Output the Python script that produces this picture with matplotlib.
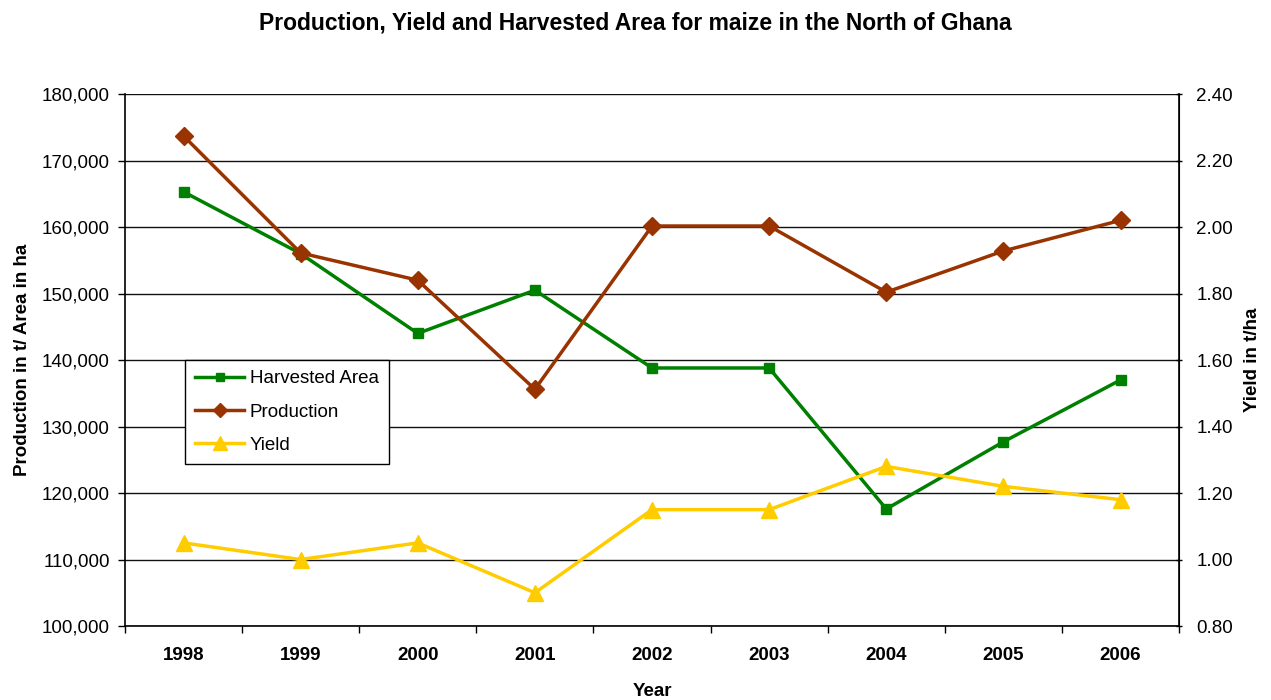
import matplotlib
matplotlib.use("Agg")
import matplotlib.pyplot as plt
from matplotlib.ticker import FuncFormatter, FixedLocator

years = ["1998", "1999", "2000", "2001", "2002", "2003", "2004", "2005", "2006"]
harvested_area = [165300, 156000, 144000, 150500, 138800, 138800, 117600, 127700, 137000]
production = [173700, 156100, 152000, 135600, 160150, 160150, 150200, 156400, 161000]
yield_t_ha = [1.05, 1.00, 1.05, 0.90, 1.15, 1.15, 1.28, 1.22, 1.18]

plt.rcParams["font.family"] = ["Liberation Sans", "DejaVu Sans"]

fig = plt.figure(figsize=(12.71, 7.0), dpi=100)
ax = fig.add_axes([0.0983, 0.1057, 0.8294, 0.76])
ax2 = ax.twinx()

x = list(range(len(years)))

ax.set_ylim(100000, 180000)
ax.set_xlim(-0.5, len(years) - 0.5)
ax2.set_ylim(0.8, 2.4)

ax.set_yticks(range(100000, 180001, 10000))
ax.yaxis.set_major_formatter(FuncFormatter(lambda v, p: f"{int(v):,}"))
ax2.set_yticks([0.8 + 0.2 * i for i in range(9)])
ax2.yaxis.set_major_formatter(FuncFormatter(lambda v, p: f"{v:.2f}"))

ax.grid(axis="y", color="#111111", linewidth=1.0)
ax.set_axisbelow(True)

# category labels centred, tick marks between categories
ax.set_xticks(x)
ax.set_xticklabels(years, fontsize=13.5, fontweight="bold")
ax.tick_params(axis="x", length=0, pad=15)
ax.xaxis.set_minor_locator(FixedLocator([i - 0.5 for i in range(len(years) + 1)]))
ax.tick_params(axis="x", which="minor", length=5, direction="out", width=1)

ax.tick_params(axis="y", labelsize=13.5, length=5, direction="out", width=1, pad=6)
ax2.tick_params(axis="y", labelsize=13.5, length=5, direction="inout", width=1, pad=10)

ax.spines["top"].set_visible(False)
ax2.spines["top"].set_visible(False)
ax.spines["left"].set_linewidth(1.2)
ax.spines["bottom"].set_linewidth(1.2)
ax2.spines["right"].set_linewidth(1.2)
ax2.spines["left"].set_visible(False)
ax2.spines["bottom"].set_visible(False)

l1, = ax.plot(x, harvested_area, color="#008000", linewidth=2.5, marker="s",
              markersize=7, label="Harvested Area", zorder=3)
l2, = ax.plot(x, production, color="#993300", linewidth=2.5, marker="D",
              markersize=9, label="Production", zorder=3)
l3, = ax2.plot(x, yield_t_ha, color="#FFCC00", linewidth=2.5, marker="^",
               markersize=12, label="Yield", zorder=3)

ax.set_ylabel("Production in t/ Area in ha", fontsize=13.5, fontweight="bold", labelpad=8)
ax2.set_ylabel("Yield in t/ha", fontsize=13.5, fontweight="bold", labelpad=8)
ax.set_xlabel("Year", fontsize=13.5, fontweight="bold", labelpad=14)

fig.suptitle("Production, Yield and Harvested Area for maize in the North of Ghana",
             fontsize=16.5, fontweight="bold", y=0.983)

leg = ax2.legend(handles=[l1, l2, l3], loc="upper left",
                 bbox_to_anchor=(0.057, 0.5), fontsize=13.5, frameon=True,
                 fancybox=False, edgecolor="#000000", framealpha=1,
                 handlelength=2.6, handletextpad=0.3, borderpad=0.55,
                 labelspacing=0.85, borderaxespad=0, markerscale=0.8)
leg.get_frame().set_linewidth(1.0)

fig.savefig("out.png", dpi=100, facecolor="white")
